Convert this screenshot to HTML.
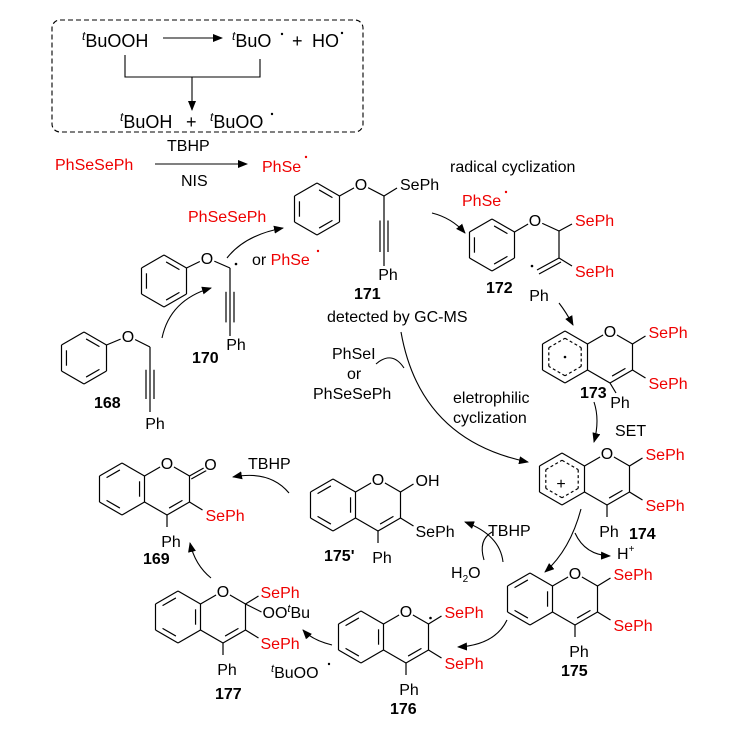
<!DOCTYPE html>
<html><head><meta charset="utf-8"><style>
html,body{margin:0;padding:0;background:#fff;width:731px;height:730px;overflow:hidden}
svg{display:block}
text{font-family:"Liberation Sans",sans-serif;font-size:16px;fill:#000}
.r{fill:#e00}
.b{font-weight:bold}
.big{font-size:18px}
</style></head><body>
<svg id="s" width="731" height="730" viewBox="0 0 731 730" xmlns="http://www.w3.org/2000/svg">
<defs><marker id="a" markerUnits="userSpaceOnUse" markerWidth="10" markerHeight="8" refX="9" refY="4" orient="auto"><path d="M0,0 L10,4 L0,8 z" fill="#000"/></marker></defs>
<g id="g" stroke="#000" stroke-width="1.2" fill="none"></g>
<g fill="none" stroke="#000" stroke-width="1.1">
<rect x="52" y="20" width="311" height="112" rx="8" stroke-dasharray="5,3"/>
<line x1="163" y1="38" x2="222" y2="38" marker-end="url(#a)"/>
<polyline points="125,55 125,77 260,77 260,59"/>
<line x1="192" y1="77" x2="192" y2="110" marker-end="url(#a)"/>
<line x1="155" y1="164" x2="247" y2="164" marker-end="url(#a)"/>
<path d="M162 338 Q170 300 211 288" marker-end="url(#a)"/>
<path d="M227 258 Q245 235 283 228" marker-end="url(#a)"/>
<path d="M432 213 Q452 218 465 233" marker-end="url(#a)"/>
<path d="M559 303 Q566 312 573 325" marker-end="url(#a)"/>
<path d="M594 402 Q600 420 594 442" marker-end="url(#a)"/>
<path d="M401 332 Q420 440 528 462" marker-end="url(#a)"/>
<path d="M376 364 Q392 350 404 368"/>
<path d="M581 509 Q570 550 545 572" marker-end="url(#a)"/>
<path d="M575 533 Q585 555 610 556" marker-end="url(#a)"/>
<path d="M507 620 Q495 645 458 647" marker-end="url(#a)"/>
<path d="M332 645 Q312 640 303 630" marker-end="url(#a)"/>
<path d="M211 578 Q195 565 190 543" marker-end="url(#a)"/>
<path d="M289 493 Q270 470 233 477" marker-end="url(#a)"/>
<path d="M503 562 Q500 535 465 522" marker-end="url(#a)"/>
<path d="M484 560 Q478 540 492 532"/>
</g>
<g>
<text class="big" x="82" y="47"><tspan font-style="italic" font-size="12" dy="-7">t</tspan><tspan dy="7">BuOOH</tspan></text>
<text class="big" x="232" y="47"><tspan font-style="italic" font-size="12" dy="-7">t</tspan><tspan dy="7">BuO</tspan></text>
<circle cx="282" cy="34" r="1.2" fill="#000"/>
<text class="big" x="292" y="47">+</text><text class="big" x="312" y="47">HO</text><circle cx="342" cy="33" r="1.2" fill="#000"/>
<text class="big" x="120" y="128"><tspan font-style="italic" font-size="12" dy="-7">t</tspan><tspan dy="7">BuOH</tspan></text>
<text class="big" x="186" y="128">+</text>
<text class="big" x="210" y="128"><tspan font-style="italic" font-size="12" dy="-7">t</tspan><tspan dy="7">BuOO</tspan></text>
<circle cx="272" cy="114" r="1.2" fill="#000"/>
<text x="167" y="151">TBHP</text>
<text x="55" y="170" class="r">PhSeSePh</text>
<text x="181" y="186">NIS</text>
<text x="262" y="172" class="r">PhSe</text><circle cx="306" cy="157" r="1.2" fill="#e00"/>
<text x="450" y="172">radical cyclization</text>
<text x="188" y="222" class="r">PhSeSePh</text>
<text x="252" y="265">or <tspan class="r">PhSe</tspan></text><circle cx="318" cy="251" r="1.2" fill="#e00"/>
<text x="462" y="206" class="r">PhSe</text><circle cx="506" cy="192" r="1.2" fill="#e00"/>
<text x="327" y="322">detected by GC-MS</text>
<text x="332" y="359">PhSeI</text>
<text x="347" y="379">or</text>
<text x="313" y="399">PhSeSePh</text>
<text x="453" y="403">eletrophilic</text>
<text x="453" y="423">cyclization</text>
<text x="615" y="436">SET</text>
<text x="617" y="559">H<tspan font-size="10" dy="-7">+</tspan></text>
<text x="248" y="469">TBHP</text>
<text x="488" y="536">TBHP</text>
<text x="451" y="578">H<tspan font-size="10" dy="4">2</tspan><tspan dy="-4">O</tspan></text>
<text x="271" y="678"><tspan font-style="italic" font-size="11" dy="-6">t</tspan><tspan dy="6">BuOO</tspan></text><circle cx="329" cy="664" r="1.2" fill="#000"/>

<text x="354" y="299" class="b">171</text>
<text x="486" y="293" class="b">172</text>
<text x="580" y="398" class="b">173</text>
<text x="629" y="539" class="b">174</text>
<text x="561" y="676" class="b">175</text>
<text x="390" y="714" class="b">176</text>
<text x="215" y="699" class="b">177</text>
<text x="143" y="564" class="b">169</text>
<text x="324" y="561" class="b">175'</text>
<text x="94" y="408" class="b">168</text>
<text x="192" y="363" class="b">170</text>
</g>
<g id="t"></g>
</svg>
<script>
var g=document.getElementById('g'),T=document.getElementById('t'),NS='http://www.w3.org/2000/svg';
function E(p,tag,at,txt){var e=document.createElementNS(NS,tag);for(var k in at)e.setAttribute(k,at[k]);if(txt)e.textContent=txt;p.appendChild(e);return e;}
function L(x1,y1,x2,y2,d){var a={x1:x1,y1:y1,x2:x2,y2:y2};if(d)a['stroke-dasharray']=d;E(g,'line',a);}
function V(cx,cy){var w=22.5,h=26;return [[cx,cy-h],[cx+w,cy-h/2],[cx+w,cy+h/2],[cx,cy+h],[cx-w,cy+h/2],[cx-w,cy-h/2]];}
function inner(cx,cy,a,b){var f=.78;var ax=cx+(a[0]-cx)*f,ay=cy+(a[1]-cy)*f,bx=cx+(b[0]-cx)*f,by=cy+(b[1]-cy)*f;var s=.12;L(ax+(bx-ax)*s,ay+(by-ay)*s,bx-(bx-ax)*s,by-(by-ay)*s);}
function ring(cx,cy,dbl,skip){var v=V(cx,cy);for(var i=0;i<6;i++){if(skip&&skip.indexOf(i)>=0)continue;L(v[i][0],v[i][1],v[(i+1)%6][0],v[(i+1)%6][1]);}
(dbl||[]).forEach(function(i){inner(cx,cy,v[i],v[(i+1)%6]);});return v;}
function dashedRing(cx,cy){var v=V(cx,cy);for(var i=0;i<6;i++){var f=.72;L(cx+(v[i][0]-cx)*f,cy+(v[i][1]-cy)*f,cx+(v[(i+1)%6][0]-cx)*f,cy+(v[(i+1)%6][1]-cy)*f,'3,2.5');}}
function tx(x,y,s,cls,anch){if(cls=='o'){E(T,'circle',{cx:x,cy:y-6,r:8,fill:'#fff'});cls=null;}var a={x:x,y:y};if(cls)a['class']=cls;if(anch)a['text-anchor']=anch;return E(T,'text',a,s);}
function dot(x,y){E(T,'circle',{cx:x,cy:y,r:1.3,fill:'#000'});}
function triple(x,y1,y2){L(x,y1,x,y2);var m1=y1+(y2-y1)*.35,m2=y1+(y2-y1)*.8;L(x-4,m1,x-4,m2);L(x+4,m1,x+4,m2);}
function dbl(x1,y1,x2,y2,ox,oy){L(x1,y1,x2,y2);L(x1+ox,y1+oy,x2+ox,y2+oy);}
function chromene(cx,cy,dashed){
 if(dashed){ring(cx,cy,[]);dashedRing(cx,cy);}else ring(cx,cy,[1,3,5]);
 var R=cx+45,v=V(R,cy);
 L(v[5][0],v[5][1],v[0][0],v[0][1]);L(v[0][0],v[0][1],v[1][0],v[1][1]);
 L(v[1][0],v[1][1],v[2][0],v[2][1]);L(v[2][0],v[2][1],v[3][0],v[3][1]);L(v[3][0],v[3][1],v[4][0],v[4][1]);
 inner(R,cy,v[2],v[3]);
 tx(R,cy-20,'O','o','middle');
 return v;}
var v=ring(317,209,[0,2,4]);L(v[1][0],v[1][1],361,184);tx(361,190,'O','o','middle');L(361,184,384,196);
L(384,196,397,188);tx(400,190,'SePh');triple(384,196,266);tx(388,280,'Ph',null,'middle');
v=ring(492,245,[0,2,4]);L(v[1][0],v[1][1],535,220);tx(535,226,'O','o','middle');L(535,220,559,231);
L(559,231,572,224);tx(575,226,'SePh','r');L(559,231,559,258);L(559,258,572,266);tx(575,277,'SePh','r');
dbl(559,258,537,270,2,4);dot(532,266);tx(539,301,'Ph',null,'middle');
v=ring(164,281,[0,2,4]);L(v[1][0],v[1][1],207,258);tx(207,264,'O','o','middle');L(207,258,230,268);
dot(236,264);triple(230,268,336);tx(236,350,'Ph',null,'middle');
v=ring(84,358,[0,2,4]);L(v[1][0],v[1][1],128,336);tx(128,342,'O','o','middle');L(128,336,150,347);
triple(150,347,412);tx(155,429,'Ph',null,'middle');
v=chromene(565,357,true);dot(565,357);
L(v[1][0],v[1][1],v[1][0]+13,v[1][1]-8);tx(v[1][0]+16,v[1][1]-6,'SePh','r');
L(v[2][0],v[2][1],v[2][0]+13,v[2][1]+8);tx(v[2][0]+16,v[2][1]+19,'SePh','r');
L(v[3][0],v[3][1],v[3][0]+6,v[3][1]+10);tx(v[3][0]+10,v[3][1]+25,'Ph',null,'middle');
v=chromene(562,479,true);tx(561,489,'+',null,'middle');
L(v[1][0],v[1][1],v[1][0]+13,v[1][1]-8);tx(v[1][0]+16,v[1][1]-6,'SePh','r');
L(v[2][0],v[2][1],v[2][0]+13,v[2][1]+8);tx(v[2][0]+16,v[2][1]+19,'SePh','r');
L(v[3][0],v[3][1],v[3][0],v[3][1]+12);tx(v[3][0]+2,v[3][1]+32,'Ph',null,'middle');
v=chromene(530,599,false);
L(v[1][0],v[1][1],v[1][0]+13,v[1][1]-8);tx(v[1][0]+16,v[1][1]-6,'SePh','r');
L(v[2][0],v[2][1],v[2][0]+13,v[2][1]+8);tx(v[2][0]+16,v[2][1]+19,'SePh','r');
L(v[3][0],v[3][1],v[3][0],v[3][1]+12);tx(v[3][0]+4,v[3][1]+32,'Ph',null,'middle');
v=chromene(361,637,false);dot(v[1][0]+2,v[1][1]-6);
L(v[1][0],v[1][1],v[1][0]+13,v[1][1]-8);tx(v[1][0]+16,v[1][1]-6,'SePh','r');
L(v[2][0],v[2][1],v[2][0]+13,v[2][1]+8);tx(v[2][0]+16,v[2][1]+19,'SePh','r');
L(v[3][0],v[3][1],v[3][0],v[3][1]+12);tx(v[3][0]+3,v[3][1]+32,'Ph',null,'middle');
v=chromene(178,617,false);
L(v[1][0],v[1][1],v[1][0]+13,v[1][1]-8);tx(v[1][0]+15,v[1][1]-6,'SePh','r');
L(v[1][0],v[1][1],v[1][0]+16,v[1][1]+8);
var o=tx(v[1][0]+17,v[1][1]+14,'OO');E(o,'tspan',{'font-style':'italic','font-size':'11',dy:'-6'},'t');E(o,'tspan',{dy:'6'},'Bu');
L(v[2][0],v[2][1],v[2][0]+13,v[2][1]+8);tx(v[2][0]+15,v[2][1]+19,'SePh','r');
L(v[3][0],v[3][1],v[3][0],v[3][1]+12);tx(v[3][0]+4,v[3][1]+32,'Ph',null,'middle');
v=chromene(122,489,false);
dbl(v[1][0],v[1][1],v[1][0]+16,v[1][1]-9,1.8,3);tx(v[1][0]+21,v[1][1]-6,'O','o','middle');
L(v[2][0],v[2][1],v[2][0]+13,v[2][1]+8);tx(v[2][0]+16,v[2][1]+19,'SePh','r');
L(v[3][0],v[3][1],v[3][0],v[3][1]+12);tx(v[3][0]+4,v[3][1]+32,'Ph',null,'middle');
v=chromene(333,505,false);
L(v[1][0],v[1][1],v[1][0]+13,v[1][1]-8);tx(v[1][0]+15,v[1][1]-6,'OH');
L(v[2][0],v[2][1],v[2][0]+13,v[2][1]+8);tx(v[2][0]+15,v[2][1]+19,'SePh');
L(v[3][0],v[3][1],v[3][0],v[3][1]+12);tx(v[3][0]+4,v[3][1]+32,'Ph',null,'middle');
</script>
</body></html>
